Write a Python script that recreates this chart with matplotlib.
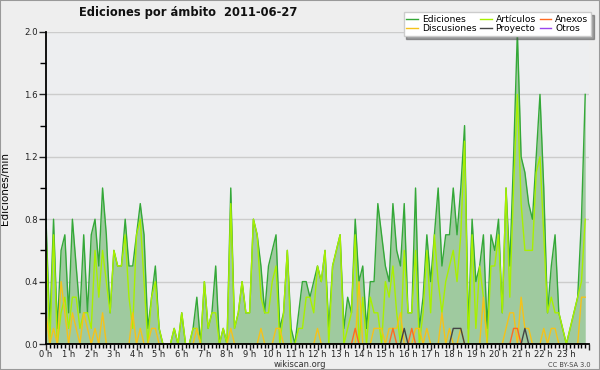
import numpy as np
import matplotlib
matplotlib.use("Agg")
import matplotlib.pyplot as plt
from matplotlib.patches import Rectangle
from matplotlib.ticker import MultipleLocator, FormatStrFormatter, FuncFormatter

# valores cada 10 minutos (ediciones/min)
ediciones = [0.8, 0.1, 0.8, 0.1, 0.6, 0.7, 0.2, 0.8, 0.5, 0.2, 0.7, 0.2,
             0.7, 0.8, 0.5, 1.0, 0.7, 0.2, 0.6, 0.5, 0.5, 0.8, 0.5, 0.5,
             0.7, 0.9, 0.7, 0.1, 0.3, 0.5, 0.1, 0.0, 0.0, 0.0, 0.1, 0.0,
             0.2, 0.0, 0.0, 0.1, 0.3, 0.0, 0.4, 0.1, 0.2, 0.5, 0.0, 0.1,
             0.0, 1.0, 0.1, 0.2, 0.4, 0.2, 0.2, 0.8, 0.7, 0.5, 0.2, 0.5,
             0.6, 0.7, 0.1, 0.2, 0.6, 0.1, 0.0, 0.2, 0.4, 0.4, 0.3, 0.4,
             0.5, 0.4, 0.6, 0.1, 0.5, 0.6, 0.7, 0.1, 0.3, 0.2, 0.8, 0.4,
             0.5, 0.1, 0.4, 0.4, 0.9, 0.7, 0.5, 0.4, 0.9, 0.6, 0.5, 0.9,
             0.2, 0.2, 1.0, 0.1, 0.3, 0.7, 0.4, 0.7, 1.0, 0.5, 0.7, 0.7,
             1.0, 0.7, 1.0, 1.4, 0.1, 0.8, 0.4, 0.5, 0.7, 0.1, 0.7, 0.6,
             0.8, 0.2, 1.0, 0.5, 1.2, 2.0, 1.2, 1.1, 0.9, 0.8, 1.2, 1.6,
             1.0, 0.2, 0.5, 0.7, 0.2, 0.1, 0.0, 0.1, 0.2, 0.3, 0.8, 1.6]

articulos = [0.7, 0.0, 0.7, 0.0, 0.2, 0.3, 0.1, 0.3, 0.3, 0.1, 0.2, 0.2,
             0.1, 0.6, 0.3, 0.6, 0.4, 0.2, 0.6, 0.5, 0.5, 0.7, 0.3, 0.1,
             0.7, 0.8, 0.4, 0.0, 0.3, 0.4, 0.1, 0.0, 0.0, 0.0, 0.1, 0.0,
             0.2, 0.0, 0.0, 0.1, 0.1, 0.0, 0.4, 0.1, 0.2, 0.2, 0.0, 0.1,
             0.0, 0.9, 0.1, 0.2, 0.4, 0.2, 0.2, 0.8, 0.7, 0.3, 0.2, 0.2,
             0.4, 0.5, 0.0, 0.2, 0.6, 0.0, 0.0, 0.1, 0.1, 0.3, 0.3, 0.2,
             0.5, 0.4, 0.6, 0.0, 0.5, 0.6, 0.7, 0.0, 0.1, 0.2, 0.7, 0.0,
             0.3, 0.0, 0.3, 0.2, 0.2, 0.0, 0.4, 0.3, 0.5, 0.2, 0.0, 0.6,
             0.2, 0.2, 0.6, 0.0, 0.2, 0.6, 0.2, 0.7, 0.4, 0.2, 0.4, 0.5,
             0.6, 0.4, 0.7, 1.3, 0.0, 0.7, 0.1, 0.5, 0.3, 0.0, 0.5, 0.5,
             0.7, 0.2, 1.0, 0.3, 1.0, 1.6, 0.9, 0.6, 0.6, 0.6, 1.1, 1.2,
             0.7, 0.2, 0.3, 0.2, 0.2, 0.1, 0.0, 0.1, 0.2, 0.3, 0.4, 0.8]

discusiones = [0.2, 0.0, 0.1, 0.0, 0.4, 0.2, 0.0, 0.2, 0.1, 0.0, 0.2, 0.1,
               0.0, 0.1, 0.0, 0.2, 0.0, 0.0, 0.0, 0.0, 0.0, 0.0, 0.0, 0.2,
               0.0, 0.1, 0.0, 0.0, 0.1, 0.1, 0.0, 0.0, 0.0, 0.0, 0.0, 0.0,
               0.0, 0.0, 0.0, 0.0, 0.1, 0.0, 0.0, 0.0, 0.0, 0.0, 0.0, 0.0,
               0.0, 0.1, 0.0, 0.0, 0.0, 0.0, 0.0, 0.0, 0.0, 0.1, 0.0, 0.0,
               0.0, 0.1, 0.1, 0.0, 0.0, 0.0, 0.0, 0.0, 0.0, 0.0, 0.0, 0.0,
               0.1, 0.0, 0.0, 0.0, 0.0, 0.0, 0.0, 0.0, 0.0, 0.0, 0.0, 0.4,
               0.0, 0.0, 0.0, 0.1, 0.1, 0.1, 0.0, 0.1, 0.1, 0.1, 0.2, 0.0,
               0.0, 0.0, 0.1, 0.1, 0.0, 0.1, 0.0, 0.0, 0.0, 0.2, 0.0, 0.1,
               0.0, 0.0, 0.1, 0.0, 0.0, 0.0, 0.0, 0.0, 0.3, 0.0, 0.0, 0.0,
               0.0, 0.0, 0.1, 0.2, 0.2, 0.0, 0.3, 0.1, 0.1, 0.0, 0.0, 0.0,
               0.1, 0.0, 0.1, 0.1, 0.0, 0.0, 0.0, 0.0, 0.0, 0.0, 0.3, 0.3]

# series casi vacias: (indice de 10 min, valor)
anexos_pts = [(82, 0.1), (92, 0.1), (97, 0.1), (124, 0.1), (125, 0.1)]
proyecto_pts = [(95, 0.1), (108, 0.1), (109, 0.1), (110, 0.1), (127, 0.1)]
otros_pts = []

horas = np.arange(len(ediciones)) / 6.0
anexos = np.zeros(len(ediciones))
for i, v in anexos_pts:
    anexos[i] = v
proyecto = np.zeros(len(ediciones))
for i, v in proyecto_pts:
    proyecto[i] = v
otros = np.zeros(len(ediciones))
for i, v in otros_pts:
    otros[i] = v

plt.rcParams['font.family'] = ['DejaVu Sans']

fig = plt.figure(figsize=(6, 3.7), dpi=100, facecolor='#eeeeee')
ax = fig.add_axes([46/600, 1-344/370, 543/600, 312/370])
ax.set_facecolor('#edeef0')

ax.fill_between(horas, ediciones, 0, color='#9fca9f', lw=0, zorder=2)
l_ed, = ax.plot(horas, ediciones, color='#34a838', lw=1.0, zorder=3)
l_ar, = ax.plot(horas, articulos, color='#a8f000', lw=1.0, zorder=4)
l_di, = ax.plot(horas, discusiones, color='#f5c21a', lw=1.0, zorder=5)
l_an, = ax.plot(horas, anexos, color='#ff6a22', lw=1.0, zorder=6)
l_pr, = ax.plot(horas, proyecto, color='#444444', lw=1.0, zorder=6)
l_ot, = ax.plot(horas, otros, color='#9944ee', lw=1.0, zorder=1, alpha=0)

ax.set_xlim(0, 24)
ax.set_ylim(0, 2.0)
ax.yaxis.set_major_locator(MultipleLocator(0.4))
ax.yaxis.set_minor_locator(MultipleLocator(0.2))
ax.yaxis.set_major_formatter(FormatStrFormatter('%.1f'))
ax.xaxis.set_major_locator(MultipleLocator(1))
ax.xaxis.set_major_formatter(FuncFormatter(lambda v, p: f'{int(round(v))} h' if v < 23.5 else ''))
ax.xaxis.set_minor_locator(MultipleLocator(1/6))
ax.tick_params(axis='both', labelsize=6.2, colors='#222222', pad=1)
ax.tick_params(axis='x', labelsize=6, pad=0)
ax.tick_params(axis='x', which='major', length=4, width=1)
ax.tick_params(axis='x', which='minor', length=3, width=1)
ax.tick_params(axis='y', which='major', length=5, width=1)
ax.tick_params(axis='y', which='minor', length=4, width=1)
ax.grid(axis='y', color='#cccccc', lw=1, zorder=0)
ax.set_axisbelow(True)
for s in ['top', 'right']:
    ax.spines[s].set_visible(False)
ax.spines['left'].set_linewidth(1.3)
ax.spines['bottom'].set_linewidth(1.3)
ax.spines['left'].set_zorder(7)
ax.spines['bottom'].set_zorder(7)

ax.set_ylabel('Ediciones/min', fontsize=7.5, labelpad=10)

leg = fig.legend([l_ed, l_di, l_ar, l_pr, l_an, l_ot],
                 ['Ediciones', 'Discusiones', 'Artículos', 'Proyecto', 'Anexos', 'Otros'],
                 ncol=3, loc='upper right', bbox_to_anchor=(591/600, 1-12/370),
                 fontsize=6.6, frameon=True, shadow=True, fancybox=False,
                 handlelength=1.3, handletextpad=0.4, columnspacing=0.4,
                 labelspacing=0.05, borderpad=0.3, borderaxespad=0)
leg.get_frame().set_edgecolor('#cccccc')
leg.get_frame().set_facecolor('white')
leg.get_frame().set_alpha(1)
leg.legend_handles[-1].set_alpha(1)

fig.text(0.313, 0.965, 'Ediciones por ámbito  2011-06-27', ha='center', va='center',
         fontsize=8.3, fontweight='bold', color='#111111')
fig.text(0.5, 0.014, 'wikiscan.org', ha='center', va='center', fontsize=6, color='#333333')
fig.text(0.985, 0.014, 'CC BY-SA 3.0', ha='right', va='center', fontsize=4.8, color='#444444')

fig.patches.append(Rectangle((0, 0), 1, 1, transform=fig.transFigure, fill=False,
                             edgecolor='#999999', lw=1.5))

fig.savefig('out.png', dpi=100, facecolor=fig.get_facecolor())
